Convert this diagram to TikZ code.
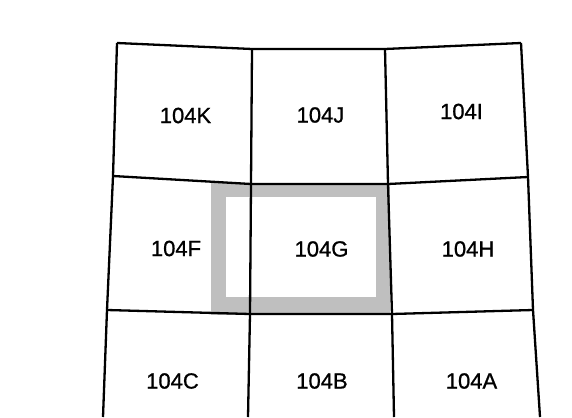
\documentclass[tikz,border=0pt]{standalone}
\usepackage{fontspec}
\setmainfont{Liberation Sans}
\newfontfamily\sheetfont[FakeBold=0.9]{Liberation Sans}
\begin{document}
\begin{tikzpicture}[x=1pt,y=-1pt,line width=2.3pt,
  sheet/.style={inner sep=0pt,font=\sheetfont\fontsize{22}{26}\selectfont}]
\useasboundingbox[fill=white] (0,0) rectangle (572,417);
% shaded frame round 104G
\fill[gray!50] (211,183) rectangle (390,315);
\fill[white] (226,197) rectangle (376,297);
% parallels
\draw (117,43)--(252,49)--(385,49)--(521,43);
\draw (113,176)--(251,184)--(388,184)--(528,177);
\draw (107,310)--(250,314)--(392,314)--(533,310);
% meridians
\draw (117,43)--(113,176)--(107,310)--(103,417);
\draw (252,49)--(251,184)--(250,314)--(248,417);
\draw (385,49)--(388,184)--(392,314)--(394,417);
\draw (521,43)--(528,177)--(533,310)--(540,417);
\node[sheet] (k) at (185.5,115.5) {104K};
\node[sheet] (j) at (320.5,115) {104J};
\node[sheet] (i) at (461.5,111.5) {104I};
\node[sheet] (f) at (176,248.5) {104F};
\node[sheet] (g) at (321.5,249) {104G};
\node[sheet] (h) at (468,249) {104H};
\node[sheet] (c) at (172.5,381) {104C};
\node[sheet] (b) at (322,381) {104B};
\node[sheet] (a) at (471.5,381) {104A};
\end{tikzpicture}
\end{document}
